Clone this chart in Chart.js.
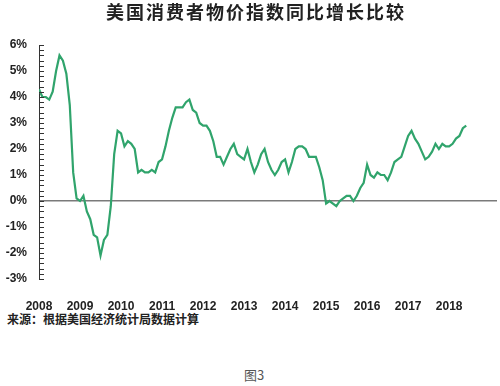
<!DOCTYPE html>
<html>
<head>
<meta charset="utf-8">
<script src="https://cdn.jsdelivr.net/npm/chart.js@4"></script>
<style>
    body { margin: 0; background: #fff; }
    #wrap { position: relative; width: 500px; height: 386px; overflow: hidden; }
    #title {
        position: absolute; left: 0; width: 512px; top: -1px; text-align: center;
        font: bold 18px "Noto Sans CJK SC", sans-serif; letter-spacing: 2px; color: #222;
        line-height: 24px;
    }
    #box { position: absolute; left: 0; top: 0; width: 500px; height: 310px; }
    #source {
        position: absolute; left: 7px; top: 310px;
        font: bold 12px "Noto Sans CJK SC", sans-serif; color: #222; line-height: 18px;
    }
    #caption {
        position: absolute; left: 0; width: 508px; top: 366px; text-align: center;
        font: 13px "Noto Sans CJK SC", sans-serif; color: #555; line-height: 18px;
    }
</style>
</head>
<body>
<div id="wrap">
    <div id="box"><canvas id="cpiChart"></canvas></div>
    <div id="title">美国消费者物价指数同比增长比较</div>
    <div id="source">来源：根据美国经济统计局数据计算</div>
    <div id="caption">图3</div>
</div>
<script>
// tick labels on the x axis (one per January)
const years = ['2008', '2009', '2010', '2011', '2012', '2013', '2014', '2015', '2016', '2017', '2018'];

// monthly CPI year-over-year change, %, Jan 2008 .. Jun 2018
const cpi2008 = [4.3, 4.0, 4.0, 3.9, 4.2, 5.0, 5.6, 5.4, 4.9, 3.7, 1.1, 0.1];
const cpi2009 = [0.0, 0.2, -0.4, -0.7, -1.3, -1.4, -2.1, -1.5, -1.3, -0.2, 1.8, 2.7];
const cpi2010 = [2.6, 2.1, 2.3, 2.2, 2.0, 1.1, 1.2, 1.1, 1.1, 1.2, 1.1, 1.5];
const cpi2011 = [1.6, 2.1, 2.7, 3.2, 3.6, 3.6, 3.6, 3.8, 3.9, 3.5, 3.4, 3.0];
const cpi2012 = [2.9, 2.9, 2.7, 2.3, 1.7, 1.7, 1.4, 1.7, 2.0, 2.2, 1.8, 1.7];
const cpi2013 = [1.6, 2.0, 1.5, 1.1, 1.4, 1.8, 2.0, 1.5, 1.2, 1.0, 1.2, 1.5];
const cpi2014 = [1.6, 1.1, 1.5, 2.0, 2.1, 2.1, 2.0, 1.7, 1.7, 1.7, 1.3, 0.8];
const cpi2015 = [-0.1, 0.0, -0.1, -0.2, 0.0, 0.1, 0.2, 0.2, 0.0, 0.2, 0.5, 0.7];
const cpi2016 = [1.4, 1.0, 0.9, 1.1, 1.0, 1.0, 0.8, 1.1, 1.5, 1.6, 1.7, 2.1];
const cpi2017 = [2.5, 2.7, 2.4, 2.2, 1.9, 1.6, 1.7, 1.9, 2.2, 2.0, 2.2, 2.1];
const cpi2018 = [2.1, 2.2, 2.4, 2.5, 2.8, 2.9];

const cpiValues = [].concat(cpi2008, cpi2009, cpi2010, cpi2011, cpi2012, cpi2013,
    cpi2014, cpi2015, cpi2016, cpi2017, cpi2018);

// x = months since Jan 2008
const points = cpiValues.map((v, i) => ({ x: i, y: v }));

const tickFont = { family: '"Liberation Sans", Arial, sans-serif', size: 12, weight: 'bold' };

// small tick marks drawn on the inner side of the y axis
const innerTicks = {
    id: 'innerTicks',
    afterDatasetsDraw(chart) {
        const s = chart.scales.y;
        const ctx = chart.ctx;
        ctx.save();
        ctx.strokeStyle = '#333';
        ctx.lineWidth = 1;
        s.ticks.forEach(t => {
            const y = Math.round(s.getPixelForValue(t.value)) + 0.5;
            ctx.beginPath();
            ctx.moveTo(s.right, y);
            ctx.lineTo(s.right + 5, y);
            ctx.stroke();
        });
        ctx.restore();
    }
};

const isWhole = v => Math.abs(v - Math.round(v)) < 1e-6;

new Chart(document.getElementById('cpiChart'), {
    type: 'line',
    data: {
        datasets: [{
            data: points,
            borderColor: '#30a46c',
            borderWidth: 2.2,
            pointRadius: 0,
            tension: 0,
            fill: false
        }]
    },
    options: {
        responsive: true,
        maintainAspectRatio: false,
        animation: false,
        layout: { padding: { top: 45, right: 3, left: 0, bottom: 0 } },
        plugins: {
            legend: { display: false },
            tooltip: { enabled: false }
        },
        scales: {
            x: {
                type: 'linear',
                min: 0,
                max: 134,
                afterFit: s => { s.height = 31; },
                grid: { display: false },
                border: { display: false },
                ticks: {
                    stepSize: 12,
                    autoSkip: false,
                    maxRotation: 0,
                    padding: 12,
                    color: '#222',
                    font: tickFont,
                    callback: v => (v % 12 === 0 && years[v / 12] ? years[v / 12] : null)
                }
            },
            y: {
                min: -3,
                max: 6,
                afterFit: s => { s.width = 39; },
                border: { display: true, color: '#333', width: 1 },
                grid: {
                    drawTicks: false,
                    lineWidth: 1.5,
                    color: c => (Math.abs(c.tick.value) < 1e-6 ? '#7a7a7a' : 'rgba(0,0,0,0)')
                },
                ticks: {
                    stepSize: 0.2,
                    autoSkip: false,
                    padding: 12,
                    color: '#222',
                    font: tickFont,
                    callback: v => (isWhole(v) ? Math.round(v) + '%' : '')
                }
            }
        }
    },
    plugins: [innerTicks]
});
</script>
</body>
</html>
